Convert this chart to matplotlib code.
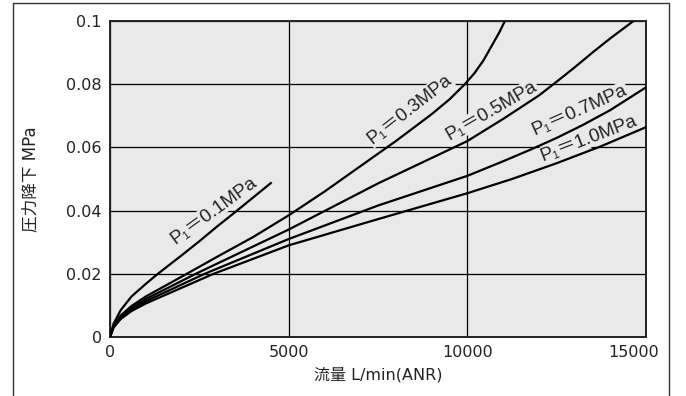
import matplotlib
matplotlib.use('Agg')
import matplotlib.pyplot as plt
from matplotlib.lines import Line2D
from matplotlib.transforms import ScaledTranslation

plt.rcParams['font.family'] = ['DejaVu Sans', 'Noto Sans CJK JP']

# Flow (L/min ANR) and pressure drop (MPa)
flow_01 = [0, 100, 300, 600, 1000, 1340, 2000, 2500, 3000, 3500, 4000, 4500]
drop_01 = [0, 0.0042, 0.0085, 0.0128, 0.0168, 0.0200, 0.0258, 0.0303, 0.0350, 0.0395, 0.0441, 0.0487]

flow_03 = [0, 100, 300, 600, 1000, 2150, 3000, 4000, 5000, 6000, 7000, 8000, 9000,
           9500, 9930, 10200, 10450, 10700, 10900, 11050]
drop_03 = [0, 0.0036, 0.0068, 0.0098, 0.0128, 0.0200, 0.0254, 0.0316, 0.0385, 0.0460,
           0.0540, 0.0620, 0.0705, 0.0752, 0.0800, 0.0835, 0.0875, 0.0925, 0.0965, 0.1000]

flow_05 = [0, 100, 300, 600, 1000, 2400, 5000, 7500, 10000, 10500, 11000, 11500, 12000,
           12500, 13000, 13500, 14000, 14650]
drop_05 = [0, 0.0034, 0.0064, 0.0092, 0.0120, 0.0200, 0.0340, 0.0486, 0.0620, 0.0655,
           0.0690, 0.0727, 0.0764, 0.0808, 0.0853, 0.0900, 0.0945, 0.1000]

flow_07 = [0, 100, 300, 600, 1000, 2650, 5000, 7500, 10000, 11000, 11750, 12500, 13250,
           14000, 15000]
drop_07 = [0, 0.0032, 0.0060, 0.0087, 0.0113, 0.0200, 0.0310, 0.0416, 0.0510, 0.0556,
           0.0592, 0.0630, 0.0672, 0.0718, 0.0790]

flow_10 = [0, 100, 300, 600, 1000, 2900, 5000, 7500, 10000, 11250, 12500, 13750, 15000]
drop_10 = [0, 0.0030, 0.0057, 0.0082, 0.0106, 0.0200, 0.0290, 0.0373, 0.0455, 0.0500,
           0.0550, 0.0604, 0.0664]

series = [(flow_01, drop_01), (flow_03, drop_03), (flow_05, drop_05),
          (flow_07, drop_07), (flow_10, drop_10)]

labels = ['P₁＝0.1MPa', 'P₁＝0.3MPa', 'P₁＝0.5MPa', 'P₁＝0.7MPa', 'P₁＝1.0MPa']
label_x = [2900, 8380, 10690, 13150, 13400]
label_y = [0.0400, 0.0720, 0.0716, 0.0718, 0.0628]
label_rot = [36, 38, 30, 24, 21]

bg = '#e8e9e8'
ink = '#222222'

fig = plt.figure(figsize=(6.86, 3.96), dpi=100)
ax = fig.add_axes([110 / 686, 59 / 396, 536 / 686, 316 / 396])
ax.set_facecolor(bg)

for fx, dy in series:
    ax.plot(fx, dy, color='black', lw=1.6, zorder=3)

for txt, x, y, r in zip(labels, label_x, label_y, label_rot):
    ax.text(x, y, txt, rotation=r, rotation_mode='anchor', ha='center', va='center',
            fontsize=13.5, color=ink, zorder=2.5,
            family=['Liberation Sans', 'Noto Sans CJK JP', 'DejaVu Sans'],
            bbox=dict(facecolor=bg, edgecolor='none', pad=0.5))

ax.set_xlim(0, 15000)
ax.set_ylim(0, 0.1)
ax.set_xticks([0, 5000, 10000, 15000])
ax.set_yticks([0, 0.02, 0.04, 0.06, 0.08, 0.1])
ax.set_yticklabels(['0', '0.02', '0.04', '0.06', '0.08', '0.1'])
ax.grid(True, color='black', lw=0.9, zorder=1)
ax.set_axisbelow(True)
ax.tick_params(length=0, labelsize=11.5, colors=ink, pad=6)
for s in ax.spines.values():
    s.set_linewidth(1.4)
    s.set_color(ink)

# last x tick label is pulled left to stay inside the frame
last = ax.get_xticklabels()[-1]
last.set_transform(last.get_transform() + ScaledTranslation(-0.12, 0, fig.dpi_scale_trans))

ax.set_xlabel('流量 L/min(ANR)', fontsize=11.5, color=ink, labelpad=5)
ax.set_ylabel('圧力降下 MPa', fontsize=12, color=ink, labelpad=19)

# outer frame (open at the bottom)
x0, x1, y1 = 13 / 686, 669 / 686, 1 - 3 / 396
fig.add_artist(Line2D([x0, x0, x1, x1], [0, y1, y1, 0], color='#333333', lw=1.0))

fig.savefig('out.png', dpi=100)
